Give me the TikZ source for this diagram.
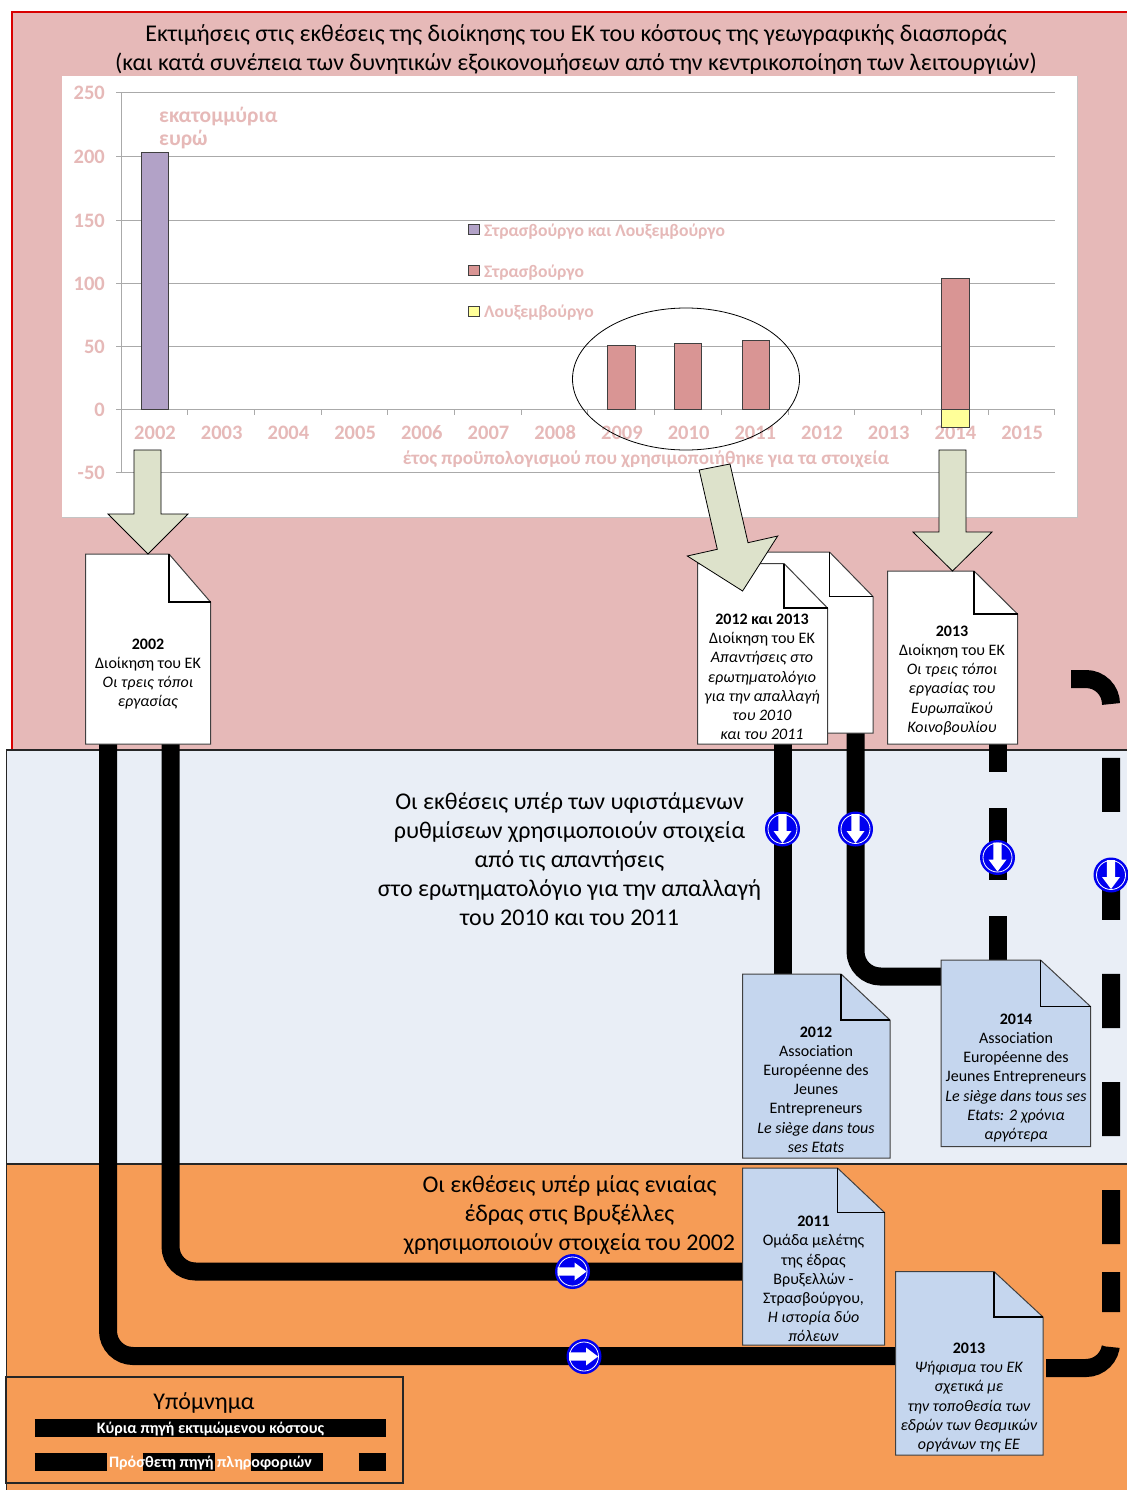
\documentclass[tikz,border=0pt]{standalone}
\usepackage{fontspec}
\setmainfont{Carlito}
\usepackage{xcolor}
\usepackage{tikz}
\usetikzlibrary{backgrounds}
\definecolor{pastelpink}{RGB}{230,185,184}
\definecolor{pastelblue}{RGB}{233,238,246}
\definecolor{pastelorange}{RGB}{246,156,86}
\definecolor{pagesblue}{RGB}{197,214,238}
\definecolor{arrowgreen}{RGB}{221,226,203}
\definecolor{barpurple}{RGB}{178,162,199}
\definecolor{barrose}{RGB}{217,149,148}
\definecolor{baryellow}{RGB}{255,255,153}
\definecolor{gridgray}{RGB}{170,170,170}
\definecolor{signblue}{RGB}{0,0,240}

\tikzset{
    bigtext/.style={align=center, font=\fontsize{24}{29}\selectfont},
    pagetext/.style={align=center, font=\fontsize{16}{19.2}\selectfont},
    charttext/.style={text=pastelpink, text height=12pt, text depth=0pt, font=\bfseries\fontsize{20.5}{23.5}\selectfont},
    keytext/.style={text=pastelpink, anchor=west, inner sep=0pt, font=\bfseries\fontsize{17.6}{19}\selectfont},
    legendtext/.style={text=white, font=\bfseries\fontsize{16}{19}\selectfont},
    gridline/.style={gridgray, line width=1pt},
    bar/.style={draw=black!75, line width=1pt},
    keybox/.style={draw=black!75, line width=0.8pt},
    bigarrow/.style={draw=black, fill=arrowgreen, line width=0.8pt},
    mainline/.style={line width=18pt, rounded corners=25pt},
    extraline/.style={line width=18pt, rounded corners=25pt},
    pagebox/.style={inner sep=0pt},
    flowsign/.pic={
        \fill [signblue] (0,0) circle (17.5);
        \draw [white, line width=0.8pt] (0,0) circle (14.5);
        \fill [white] (-15,-4.2) -- (2,-4.2) -- (2,-9) -- (14,0) -- (2,9) -- (2,4.2) -- (-15,4.2) -- cycle;
    }
}

% page with a folded corner: name, left, top, right, bottom, fold x, fold y, colour
\newcommand{\docpage}[8]{
    \node[pagebox, minimum width={(#4-#2)*1pt}, minimum height={(#5-#3)*1pt}] (#1) at ({(#2+#4)/2},{(#3+#5)/2}) {};
    \draw[fill=#8, draw=black!75, line width=1pt] (#2,#3) -- (#6,#3) -- (#4,#7) -- (#4,#5) -- (#2,#5) -- cycle;
    \draw[line width=1.2pt] (#6,#3) -- (#6,#7) -- (#4,#7);
}

\begin{document}
\begin{tikzpicture}[x=1pt, y=-1pt]
    \useasboundingbox (0,0) rectangle (1127,1490);

    % Three coloured bands
    \begin{scope}[on background layer]
    \fill [pastelpink] (12,12) rectangle (1127,750);
    \draw [red!85!black, line width=1.2pt] (12,750) -- (12,12) -- (1127,12);
    \fill [pastelblue] (6,750) rectangle (1127,1164);
    \fill [pastelorange] (6,1164) rectangle (1127,1490);
    \draw [black!85, line width=1pt] (6,1490) -- (6,750);
    \draw [black!85, line width=1.2pt] (6,750) -- (1127,750);
    \draw [black!85, line width=2pt] (6,1164) -- (1127,1164);
    \end{scope}

    \node[bigtext] (title) at (576,49.5) {Εκτιμήσεις στις εκθέσεις της διοίκησης του ΕΚ του κόστους της γεωγραφικής διασποράς\\(και κατά συνέπεια των δυνητικών εξοικονομήσεων από την κεντρικοποίηση των λειτουργιών)};

    % Chart
    \fill [white] (62,76) rectangle (1077,517);
    \draw [gridgray!70, line width=1pt] (1077,76) -- (1077,517) -- (62,517);
    \foreach \val/\ypos in {250/93,200/157,150/220,100/283,50/346,0/409,-50/472} {
        \draw [gridline] (116,\ypos) -- (1055,\ypos);
        \node[charttext, anchor=east, inner sep=0pt] (ylab\val) at (105,\ypos+1) {\val};
    }
    \draw [gridline] (121,93) -- (121,472);
    \foreach \tick in {1,...,14}
        \draw [gridline] ({121+66.7*\tick},409) -- ({121+66.7*\tick},415);
    \foreach \yr [count=\i from 0] in {2002,...,2015}
        \node[charttext] (year\yr) at ({155+66.7*\i},433) {\yr};
    \node[text=pastelpink, anchor=west, align=left, inner sep=0pt, font=\bfseries\fontsize{21.5}{23.5}\selectfont] (unit) at (159,128) {εκατομμύρια\\ευρώ};
    \node[text=pastelpink, font=\bfseries\fontsize{19.2}{20}\selectfont] (xtitle) at (646,459.5) {έτος προϋπολογισμού που χρησιμοποιήθηκε για τα στοιχεία};

    % Bars
    \draw [bar, fill=barpurple] (141,153) rectangle (168,409);
    \draw [bar, fill=barrose] (607,345) rectangle (635,409);
    \draw [bar, fill=barrose] (674,343) rectangle (701,409);
    \draw [bar, fill=barrose] (742,340) rectangle (769,409);
    \draw [bar, fill=barrose] (941,278) rectangle (969,409);
    \draw [bar, fill=baryellow] (941,409) rectangle (969,427);

    % Chart key
    \draw [keybox, fill=barpurple] (468.5,224.5) rectangle (479,234.5);
    \draw [keybox, fill=barrose] (468.5,265.5) rectangle (479,275.5);
    \draw [keybox, fill=baryellow] (468.5,306.5) rectangle (479,316);
    \node[keytext] (keyboth) at (484,231.5) {Στρασβούργο και Λουξεμβούργο};
    \node[keytext] (keystr) at (484,272.5) {Στρασβούργο};
    \node[keytext] (keylux) at (484,312.5) {Λουξεμβούργο};

    \draw [line width=0.8pt] (686,379) ellipse (113.5 and 71);

    % Pages
    \docpage{ep2002}{85.5}{554}{210.5}{744}{169}{602}{white}
    \docpage{epback}{740}{552}{873}{733}{829.5}{596.5}{white}
    \docpage{epfront}{697.5}{563.5}{827.5}{744}{784}{608}{white}
    \docpage{ep2013}{887.5}{571}{1017.5}{744}{974}{614}{white}
    \docpage{aej2012}{742.5}{974}{890}{1158}{841}{1020}{pagesblue}
    \docpage{aej2014}{941}{960}{1090.5}{1146.5}{1040.5}{1006.5}{pagesblue}
    \docpage{study2011}{742.5}{1168}{884.5}{1345}{837.5}{1212.5}{pagesblue}
    \docpage{res2013}{895.5}{1271.5}{1043}{1455}{994}{1317}{pagesblue}

    \node[pagetext] (txt2002) at (148,674) {\textbf{2002}\\Διοίκηση του ΕΚ\\\textit{Οι τρεις τόποι}\\\textit{εργασίας}};
    \node[pagetext] (txtfront) at (762,677) {\textbf{2012 και 2013}\\Διοίκηση του ΕΚ\\\textit{Απαντήσεις στο}\\\textit{ερωτηματολόγιο}\\\textit{για την απαλλαγή}\\\textit{του 2010}\\\textit{και του 2011}};
    \node[pagetext] (txt2013) at (952,680.5) {\textbf{2013}\\Διοίκηση του ΕΚ\\\textit{Οι τρεις τόποι}\\\textit{εργασίας του}\\\textit{Ευρωπαϊκού}\\\textit{Κοινοβουλίου}};
    \node[pagetext] (txtaej12) at (816,1089.5) {\textbf{2012}\\Association\\Européenne des\\Jeunes\\Entrepreneurs\\\textit{Le siège dans tous}\\\textit{ses Etats}};
    \node[pagetext] (txtaej14) at (1016,1078) {\textbf{2014}\\Association\\Européenne des\\Jeunes Entrepreneurs\\\textit{Le siège dans tous ses}\\\textit{Etats: 2 χρόνια}\\\textit{αργότερα}};
    \node[pagetext] (txtstudy) at (813.5,1279) {\textbf{2011}\\Ομάδα μελέτης\\της έδρας\\Βρυξελλών -\\Στρασβούργου,\\\textit{Η ιστορία δύο}\\\textit{πόλεων}};
    \node[pagetext] (txtres) at (969,1397.5) {\textbf{2013}\\\textit{Ψήφισμα του ΕΚ}\\\textit{σχετικά με}\\\textit{την τοποθεσία των}\\\textit{εδρών των θεσμικών}\\\textit{οργάνων της ΕΕ}};

    % Block arrows from the chart to the pages
    \draw [bigarrow] (134,450) -- (161,450) -- (161,514) -- (188,514) -- (148,554) -- (108,514) -- (134,514) -- cycle;
    \draw [bigarrow] (699.2,470) -- (730,464) -- (748,542.7) -- (777.7,536) -- (742.6,591) -- (687.3,556) -- (717.3,549.3) -- cycle;
    \draw [bigarrow] (939,450) -- (966,450) -- (966,532) -- (992,532) -- (952.5,571) -- (913,532) -- (939,532) -- cycle;

    % Lines between the pages
    \coordinate (bendA) at (108,1356);
    \coordinate (bendB) at (170.5,1271.5);
    \coordinate (spineC) at (782.5,860);
    \coordinate (bendD) at (855.5,976.5);
    \coordinate (spineE) at (997.5,850);
    \coordinate (turntop) at (1111,679);
    \coordinate (turnbot) at (1111,1368);
    \begin{scope}[on background layer]
    \draw [mainline] (ep2002.south -| bendA) -- (bendA) -- (res2013.west |- bendA);
    \draw [mainline] (ep2002.south -| bendB) -- (bendB) -- (study2011.west |- bendB);
    \draw [mainline] (epfront.south -| spineC) -- (aej2012.north -| spineC);
    \draw [mainline] (epback.south -| bendD) -- (bendD) -- (aej2014.west |- bendD);
    \draw [extraline, dash pattern=on 72pt off 36pt, dash phase=44pt] (ep2013.south -| spineE) -- (aej2014.north -| spineE);
    \draw [extraline, dash pattern=on 0pt off 53.5pt on 54pt off 54pt on 54pt off 54pt on 54pt off 54pt on 54pt off 54pt on 54pt off 54pt on 54pt off 28pt on 40pt off 35pt on 75pt off 30pt] (ep2013.east |- turntop) -- (turntop) -- (turnbot) -- (res2013.east |- turnbot);
    \end{scope}

    % Signs on the lines
    \pic[rotate=-90] (signC) at (782.5,829) {flowsign};
    \pic[rotate=-90] (signD) at (855.5,829) {flowsign};
    \pic[rotate=-90] (signE) at (997.5,857.5) {flowsign};
    \pic[rotate=-90] (signF) at (1111,875) {flowsign};
    \pic (signB) at (572.5,1271.5) {flowsign};
    \pic (signA) at (584,1356.5) {flowsign};

    \node[bigtext] (middletext) at (569.5,859) {Οι εκθέσεις υπέρ των υφιστάμενων\\ρυθμίσεων χρησιμοποιούν στοιχεία\\από τις απαντήσεις\\στο ερωτηματολόγιο για την απαλλαγή\\του 2010 και του 2011};
    \node[bigtext] (lowertext) at (569.5,1215.5) {Οι εκθέσεις υπέρ μίας ενιαίας\\έδρας στις Βρυξέλλες\\χρησιμοποιούν στοιχεία του 2002};

    % Legend
    \node[draw=black!85, line width=1.2pt, minimum width=397pt, minimum height=106pt, inner sep=0pt] (legend) at (204.5,1430) {};
    \node[bigtext] (legendtitle) at (204,1403) {Υπόμνημα};
    \coordinate (keymainA) at (34.7,1428.3);
    \coordinate (keymainB) at (385.7,1428.3);
    \coordinate (keyextraA) at (34.7,1462.3);
    \coordinate (keyextraB) at (385.7,1462.3);
    \draw [line width=18pt] (keymainA) -- (keymainB);
    \draw [line width=18pt, dash pattern=on 72pt off 36pt] (keyextraA) -- (keyextraB);
    \node[legendtext] (keymaintext) at (210.5,1428.8) {Κύρια πηγή εκτιμώμενου κόστους};
    \node[legendtext] (keyextratext) at (210.5,1462.8) {Πρόσθετη πηγή πληροφοριών};
\end{tikzpicture}
\end{document}
